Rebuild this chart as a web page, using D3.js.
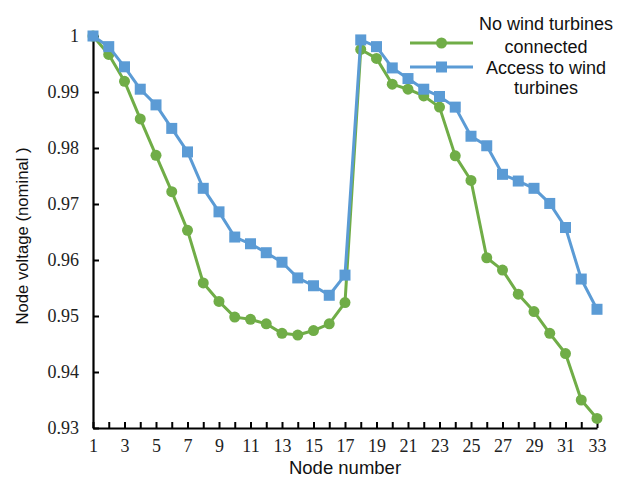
<!DOCTYPE html>
<html>
<head>
<meta charset="utf-8">
<script src="https://cdn.jsdelivr.net/npm/d3@7"></script>
<style>
  html, body { margin: 0; padding: 0; background: #fff; }
  svg { display: block; }
</style>
</head>
<body>
<svg id="chart" width="620" height="483"></svg>
<script>
// Node indices along the feeder
const nodes = d3.range(1, 34);

// Node voltage without wind turbines (p.u.)
const noWind = [
  1.0000, 0.9967, 0.9919, 0.9852, 0.9787, 0.9722, 0.9653, 0.9559, 0.9526, 0.9498,
  0.9494, 0.9486, 0.9469, 0.9466, 0.9474, 0.9486, 0.9524, 0.9976, 0.9960, 0.9914,
  0.9905, 0.9893, 0.9873, 0.9786, 0.9742, 0.9604, 0.9582, 0.9539, 0.9508, 0.9469,
  0.9433, 0.9350, 0.9317
];

// Node voltage with wind turbines connected (p.u.)
const withWind = [
  1.0000, 0.9981, 0.9945, 0.9905, 0.9877, 0.9835, 0.9793, 0.9728, 0.9686, 0.9641,
  0.9629, 0.9613, 0.9596, 0.9568, 0.9554, 0.9537, 0.9573, 0.9993, 0.9981, 0.9943,
  0.9924, 0.9905, 0.9892, 0.9873, 0.9821, 0.9804, 0.9753, 0.9741, 0.9728, 0.9701,
  0.9658, 0.9566, 0.9512
];

const yTicks = [0.93, 0.94, 0.95, 0.96, 0.97, 0.98, 0.99, 1];

const seriesNames = ["No wind turbines\nconnected", "Access to wind\nturbines"];
const seriesColors = ["#70AD47", "#5B9BD5"];

const svg = d3.select("#chart");

const x = d3.scaleLinear().domain([1, 33]).range([93, 597]);
const y = d3.scaleLinear().domain([0.93, 1]).range([428, 36]);

const serif = "'Liberation Serif', 'Times New Roman', serif";
const sans = "'Liberation Sans', Arial, sans-serif";

// Y axis
const yAxis = svg.append("g")
  .attr("transform", `translate(${x(1)},0)`)
  .call(d3.axisLeft(y)
    .tickValues(yTicks)
    .tickSize(-6)
    .tickSizeOuter(0)
    .tickPadding(14)
    .tickFormat(d => d === 1 ? "1" : d3.format(".2f")(d)));

// X axis
const xAxis = svg.append("g")
  .attr("transform", `translate(0,${y(0.93)})`)
  .call(d3.axisBottom(x)
    .tickValues(nodes)
    .tickSize(-6)
    .tickSizeOuter(0)
    .tickPadding(6)
    .tickFormat(d => d % 2 === 1 ? String(d) : ""));

[yAxis, xAxis].forEach(g => {
  g.select(".domain").attr("stroke", "#000").attr("stroke-width", 2.2);
  g.selectAll(".tick line").attr("stroke", "#000").attr("stroke-width", 2);
  g.selectAll(".tick text")
    .attr("fill", "#222")
    .style("font-family", serif)
    .style("font-size", "18px");
});
xAxis.selectAll(".tick text").attr("dy", "1em");

// Axis titles
svg.append("text")
  .attr("x", 345).attr("y", 474)
  .attr("text-anchor", "middle")
  .style("font-family", sans).style("font-size", "18.5px")
  .attr("fill", "#111")
  .text("Node number");

svg.append("text")
  .attr("transform", "translate(28,236) rotate(-90)")
  .attr("text-anchor", "middle")
  .style("font-family", sans).style("font-size", "16.7px")
  .attr("fill", "#111")
  .text("Node voltage (nominal )");

// Series lines and markers
const line = d3.line().x((d, i) => x(nodes[i])).y(d => y(d));

function drawSeries(values, color, shape) {
  svg.append("path")
    .datum(values)
    .attr("fill", "none")
    .attr("stroke", color)
    .attr("stroke-width", 3)
    .attr("stroke-linejoin", "round")
    .attr("d", line);
  const g = svg.append("g");
  if (shape === "circle") {
    g.selectAll("circle").data(values).join("circle")
      .attr("cx", (d, i) => x(nodes[i]))
      .attr("cy", d => y(d))
      .attr("r", 5.5)
      .attr("fill", color);
  } else {
    g.selectAll("rect").data(values).join("rect")
      .attr("x", (d, i) => x(nodes[i]) - 5.5)
      .attr("y", d => y(d) - 5.5)
      .attr("width", 11).attr("height", 11)
      .attr("fill", color);
  }
}

drawSeries(noWind, seriesColors[0], "circle");
drawSeries(withWind, seriesColors[1], "square");

// Legend
const legendRows = [
  { lineY: 43, textY: [30, 53], name: seriesNames[0], color: seriesColors[0], shape: "circle" },
  { lineY: 67, textY: [74, 94], name: seriesNames[1], color: seriesColors[1], shape: "square" }
];
legendRows.forEach(r => {
  svg.append("line")
    .attr("x1", 410).attr("x2", 473)
    .attr("y1", r.lineY).attr("y2", r.lineY)
    .attr("stroke", r.color).attr("stroke-width", 3);
  if (r.shape === "circle") {
    svg.append("circle").attr("cx", 441.5).attr("cy", r.lineY).attr("r", 5.5).attr("fill", r.color);
  } else {
    svg.append("rect").attr("x", 436).attr("y", r.lineY - 5.5)
      .attr("width", 11).attr("height", 11).attr("fill", r.color);
  }
  r.name.split("\n").forEach((t, i) => {
    svg.append("text")
      .attr("x", 546).attr("y", r.textY[i])
      .attr("text-anchor", "middle")
      .style("font-family", sans).style("font-size", "18px")
      .attr("fill", "#111")
      .text(t);
  });
});
</script>
</body>
</html>
